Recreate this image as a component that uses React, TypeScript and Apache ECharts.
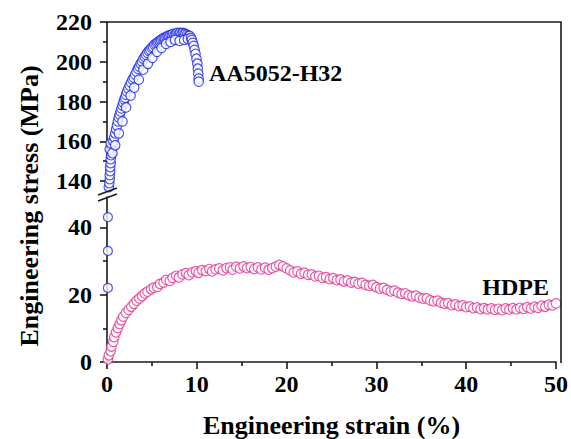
import React, { useEffect, useRef } from "react";
import * as echarts from "echarts";

// ---- Data (strain %, stress MPa) ----
const aaUpper: number[][] = [
  [0.2, 137], [0.25, 139], [0.3, 141], [0.3, 143], [0.35, 145], [0.35, 147], [0.4, 149], [0.4, 151],
  [0.45, 153], [0.5, 155], [0.55, 157], [0.6, 158.5], [0.3, 156], [0.4, 159], [0.7, 160], [0.8, 162],
  [0.9, 164], [1.0, 166], [1.1, 168], [1.2, 170], [1.3, 172], [1.4, 173.5], [1.5, 175], [1.6, 176.5],
  [1.7, 178], [1.8, 179.5], [1.9, 181], [2.0, 182], [2.1, 183.5], [2.2, 185], [2.35, 186.5], [2.5, 188],
  [2.65, 189.5], [2.8, 191], [2.95, 192], [3.1, 193.5], [3.25, 195], [3.4, 196.5], [3.55, 197.5], [3.7, 199],
  [3.85, 200], [4.0, 201.5], [4.15, 202.5], [4.3, 203.5], [4.45, 204.5], [4.6, 205.5], [4.75, 206], [4.9, 207],
  [5.05, 207.5], [5.2, 208.5], [5.35, 209], [5.5, 209.5], [5.65, 210], [5.8, 210.5], [5.95, 211], [6.1, 211.5],
  [6.25, 212], [6.4, 212], [6.55, 212.5], [6.7, 213], [6.85, 213], [7.0, 213.5], [7.15, 213.5], [7.3, 214],
  [7.45, 213.5], [7.6, 214], [7.75, 214.5], [7.9, 214], [8.05, 214.5], [8.2, 214], [8.35, 214.5], [8.5, 214],
  [8.65, 214], [8.8, 213.5], [8.95, 213], [9.1, 213],
  [0.6, 154], [0.9, 158], [1.3, 164], [1.7, 170], [2.1, 177], [2.6, 183], [3.0, 187], [3.5, 191],
  [4.0, 196], [4.5, 199], [5.0, 202], [5.5, 205], [6.0, 207], [6.5, 209], [7.0, 210], [7.5, 211],
  [8.0, 210.5], [8.5, 211], [8.9, 211.5],
  [9.25, 212], [9.35, 211], [9.45, 209.5], [9.55, 208], [9.65, 206], [9.75, 204], [9.85, 201.5], [9.95, 199],
  [10.0, 196.5], [10.05, 194], [10.1, 191.5], [10.1, 190],
];
const aaLower: number[][] = [
  [0.1, 22], [0.1, 33], [0.1, 43],
];
const hdpe: number[][] = [
  [0.1, 0.8], [0.2, 2.0], [0.4, 3.2], [0.5, 4.6], [0.7, 6.0], [0.8, 7.4], [1.0, 8.8], [1.2, 10.1],
  [1.4, 11.3], [1.6, 12.4], [1.8, 13.5], [2.1, 14.6], [2.4, 15.5], [2.7, 16.4], [3.0, 17.3], [3.3, 18.2],
  [3.6, 18.9], [3.9, 19.6], [4.2, 20.4], [4.5, 20.9], [4.9, 21.6], [5.2, 22.1], [5.6, 22.3], [5.9, 23.2],
  [6.3, 23.6], [6.6, 24.4], [7.0, 24.1], [7.3, 25.0], [7.7, 25.6], [8.0, 25.1], [8.4, 26.0], [8.8, 26.4],
  [9.1, 25.8], [9.5, 26.6], [9.9, 27.0], [10.2, 26.5], [10.6, 27.3], [11.0, 27.0], [11.4, 27.6], [11.7, 26.9],
  [12.1, 27.5], [12.5, 27.8], [12.9, 27.2], [13.3, 27.9], [13.7, 28.1], [14.0, 27.4], [14.4, 28.3], [14.8, 27.8],
  [15.2, 28.4], [15.6, 27.9], [16.0, 28.2], [16.4, 27.6], [16.8, 28.1], [17.2, 27.5], [17.6, 28.0], [18.0, 27.4],
  [18.4, 27.9], [18.8, 28.3], [19.2, 28.8], [19.6, 28.4], [20.0, 27.8], [20.4, 27.2], [20.8, 26.6], [21.2, 26.9],
  [21.6, 26.2], [22.0, 26.5], [22.4, 25.9], [22.8, 26.0], [23.2, 25.4], [23.6, 25.6], [24.0, 25.0], [24.4, 25.2],
  [24.8, 24.6], [25.2, 24.9], [25.6, 24.3], [26.0, 24.5], [26.4, 23.9], [26.8, 24.2], [27.2, 23.6], [27.6, 23.8],
  [28.0, 23.3], [28.4, 23.5], [28.8, 22.9], [29.2, 22.6], [29.6, 22.9], [30.0, 22.2], [30.4, 21.8], [30.8, 22.0],
  [31.2, 21.4], [31.6, 21.0], [32.0, 21.2], [32.4, 20.6], [32.8, 20.2], [33.2, 20.4], [33.6, 19.8], [34.0, 19.5],
  [34.4, 19.7], [34.8, 19.1], [35.2, 18.8], [35.6, 18.9], [36.0, 18.3], [36.4, 18.0], [36.8, 18.2], [37.2, 17.6],
  [37.6, 17.3], [38.0, 17.5], [38.4, 16.9], [38.8, 17.1], [39.2, 16.6], [39.6, 16.8], [40.0, 16.3], [40.4, 16.5],
  [40.8, 16.0], [41.2, 16.2], [41.6, 15.7], [42.0, 16.0], [42.4, 15.6], [42.8, 15.9], [43.2, 15.5], [43.6, 15.8],
  [44.0, 15.4], [44.4, 15.9], [44.8, 15.6], [45.2, 16.0], [45.6, 15.6], [46.0, 16.1], [46.4, 15.8], [46.8, 16.3],
  [47.2, 15.9], [47.6, 16.4], [48.0, 16.1], [48.4, 16.7], [48.8, 16.4], [49.2, 17.0], [49.6, 16.8], [50.0, 17.4],
];
const upperTicks = [140, 160, 180, 200, 220];
const upperMinor = [150, 170, 190, 210];
const lowerTicks = [0, 20, 40];
const lowerMinor = [10, 30];
const xLabelTitle = "Engineering strain (%)";
const yLabelTitle = "Engineering stress (MPa)";

const FONT = "'Liberation Serif', 'Times New Roman', serif";
const AXIS = "#1a1a1a";
const BLUE = "#1b27e6";
const PINK = "#de338f";

export default function App() {
  const ref = useRef<HTMLDivElement>(null);
  useEffect(() => {
    if (!ref.current) return;
    const chart = echarts.init(ref.current, undefined, { renderer: "svg" });
    const L = 107, R = 10, W = 571, H = 439;
    const upTop = 22, upH = 167, loTop = 197, loBottom = 76;
    const plotRight = W - R, plotBottom = H - loBottom;
    const lineStyle = { color: AXIS, width: 1.6 };
    const labelStyle = { fontFamily: FONT, fontWeight: "bold" as const, fontSize: 24, color: "#000" };
    const majorY = (gridIndex: number, min: number, max: number, ticks: number[]) => ({
      type: "value", gridIndex, min, max, position: "left",
      axisLine: { show: true, lineStyle },
      axisTick: { show: true, inside: false, length: 7, lineStyle, customValues: ticks },
      axisLabel: { show: true, margin: 15, ...labelStyle, customValues: ticks },
      splitLine: { show: false },
    });
    const minorY = (gridIndex: number, min: number, max: number, ticks: number[]) => ({
      type: "value", gridIndex, min, max, position: "left",
      axisLine: { show: false },
      axisTick: { show: true, inside: false, length: 4, lineStyle, customValues: ticks },
      axisLabel: { show: false },
      splitLine: { show: false },
    });
    const sym = (c: string) => ({ color: "#ffffff", borderColor: c, borderWidth: 1.2 });
    chart.setOption({
      animation: false,
      backgroundColor: "#ffffff",
      grid: [
        { left: L, right: R, top: upTop, height: upH },
        { left: L, right: R, top: loTop, bottom: loBottom },
      ],
      xAxis: [
        {
          type: "value", gridIndex: 0, min: 0, max: 50, position: "top",
          axisLine: { show: true, lineStyle }, axisTick: { show: false }, axisLabel: { show: false },
          splitLine: { show: false },
        },
        {
          type: "value", gridIndex: 1, min: 0, max: 50, interval: 10, position: "bottom",
          axisLine: { show: true, lineStyle },
          axisTick: { show: true, inside: false, length: 7, lineStyle },
          minorTick: { show: true, splitNumber: 2, length: 4, lineStyle },
          axisLabel: { show: true, margin: 10, ...labelStyle },
          splitLine: { show: false }, minorSplitLine: { show: false },
          name: xLabelTitle, nameLocation: "middle", nameGap: 50,
          nameTextStyle: { fontFamily: FONT, fontWeight: "bold", fontSize: 26, color: "#000" },
        },
      ],
      yAxis: [
        majorY(0, 136, 220, upperTicks),
        minorY(0, 136, 220, upperMinor),
        majorY(1, 0, 49, lowerTicks),
        minorY(1, 0, 49, lowerMinor),
      ],
      series: [
        {
          type: "scatter", name: "HDPE", xAxisIndex: 1, yAxisIndex: 2, data: hdpe, clip: false,
          symbol: "circle", symbolSize: 9.5, itemStyle: sym(PINK),
        },
        {
          type: "scatter", name: "AA5052-H32", xAxisIndex: 0, yAxisIndex: 0, data: aaUpper, clip: false,
          symbol: "circle", symbolSize: 9.5, itemStyle: sym(BLUE),
        },
        {
          type: "scatter", name: "AA5052-H32 low", xAxisIndex: 1, yAxisIndex: 2, data: aaLower, clip: false,
          symbol: "circle", symbolSize: 9, itemStyle: sym(BLUE),
        },
      ],
      graphic: [
        { type: "line", shape: { x1: plotRight, y1: upTop, x2: plotRight, y2: plotBottom }, style: { stroke: AXIS, lineWidth: 1.6 }, z: 10 },
        { type: "line", shape: { x1: 98, y1: 195, x2: 117, y2: 188 }, style: { stroke: AXIS, lineWidth: 1.6 }, z: 10 },
        { type: "line", shape: { x1: 98, y1: 201, x2: 117, y2: 194 }, style: { stroke: AXIS, lineWidth: 1.6 }, z: 10 },
        {
          type: "text", x: 209, y: 73, z: 10,
          style: { text: "AA5052-H32", font: `bold 24px ${FONT}`, fill: "#000", textAlign: "left", textVerticalAlign: "middle" },
        },
        {
          type: "text", x: 549, y: 287, z: 10,
          style: { text: "HDPE", font: `bold 24px ${FONT}`, fill: "#000", textAlign: "right", textVerticalAlign: "middle" },
        },
        {
          type: "text", x: 29, y: 206, rotation: Math.PI / 2, z: 10,
          style: { text: yLabelTitle, font: `bold 26px ${FONT}`, fill: "#000", textAlign: "center", textVerticalAlign: "middle" },
        },
      ],
    });
    return () => chart.dispose();
  }, []);
  return <div ref={ref} style={{ position: "fixed", left: 0, top: 0, width: 571, height: 439 }} />;
}
